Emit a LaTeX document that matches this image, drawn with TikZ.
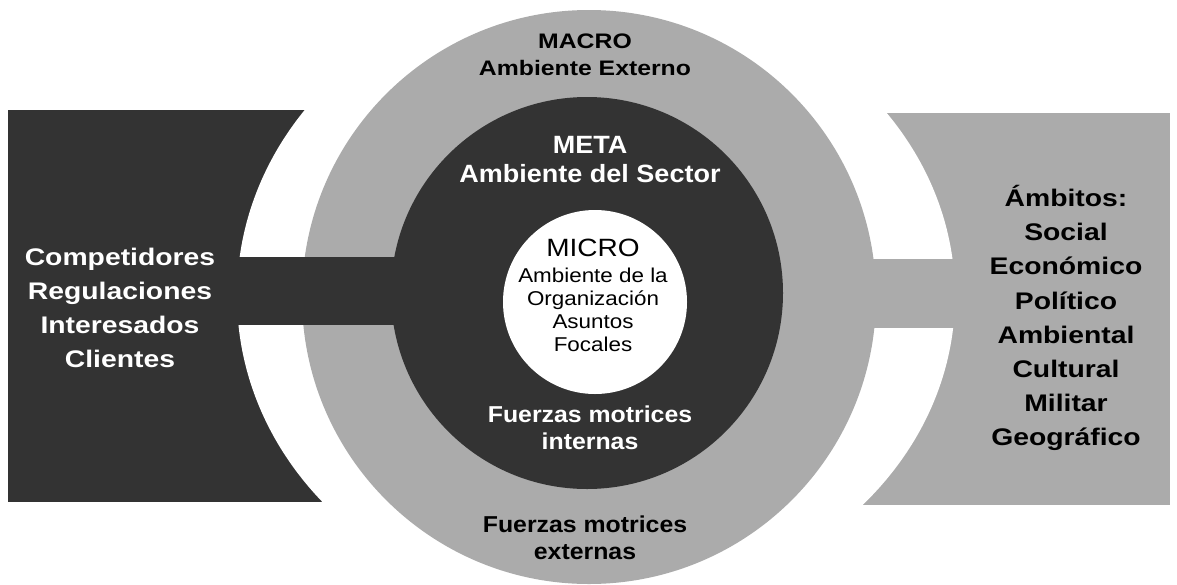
\documentclass[tikz,border=0pt]{standalone}
\usepackage{fontspec}
\setmainfont{Liberation Sans}
\newfontfamily\wideA[FakeStretch=1.18]{Liberation Sans}
\newfontfamily\wideB[FakeStretch=1.08]{Liberation Sans}
\newfontfamily\wideC[FakeStretch=1.12]{Liberation Sans}
\definecolor{darkfill}{HTML}{333333}
\definecolor{grayfill}{HTML}{ABABAB}
\begin{document}
\begin{tikzpicture}[x=1pt,y=-1pt,
  side/.style={align=center,font=\wideA\bfseries\fontsize{24}{34.2}\selectfont},
  ring/.style={align=center,font=\wideB\bfseries\fontsize{23}{27}\selectfont},
  core/.style={align=center,font=\wideC\fontsize{20}{23}\selectfont}]
\useasboundingbox (0,0) rectangle (1177,584);
\fill[white] (0,0) rectangle (1177,584);
% side panels
\fill[darkfill] (8,110) rectangle (340,502);
\fill[grayfill] (850,113) rectangle (1170,505);
% white gaps
\begin{scope}
  \clip (0,0) rectangle (588,584);
  \fill[white] (588,296) ellipse [x radius=351pt, y radius=315pt];
\end{scope}
\begin{scope}
  \clip (588,0) rectangle (1177,584);
  \fill[white] (588,296) ellipse [x radius=367pt, y radius=315pt];
\end{scope}
% bands and circles
\fill[grayfill] (588,259) rectangle (1170,328);
\fill[grayfill] (589,297) circle [radius=287pt];
\fill[darkfill] (8,257) rectangle (588,325);
\fill[darkfill] (587,293) circle [radius=196pt];
\fill[white] (595,302) circle [radius=92pt];
% texts
\node[side,text=white] (left) at (120,308) {Competidores\\Regulaciones\\Interesados\\Clientes};
\node[side,text=black] (right) at (1066,318) {Ámbitos:\\Social\\Económico\\Político\\Ambiental\\Cultural\\Militar\\Geográfico};
\node[ring,text=black,font=\wideA\bfseries\fontsize{21}{27}\selectfont] (macro) at (585,55) {MACRO\\Ambiente Externo};
\node[ring,text=white,font=\wideB\bfseries\fontsize{25}{29}\selectfont] (meta) at (590,160) {META\\Ambiente del Sector};
\node[core,text=black] (micro) at (593,295) {{\fontsize{25}{25}\selectfont MICRO}\\[3pt]Ambiente de la\\Organización\\Asuntos\\Focales};
\node[ring,text=white] (fmi) at (590,428) {Fuerzas motrices\\internas};
\node[ring,text=black] (fme) at (585,538) {Fuerzas motrices\\externas};
\end{tikzpicture}
\end{document}
